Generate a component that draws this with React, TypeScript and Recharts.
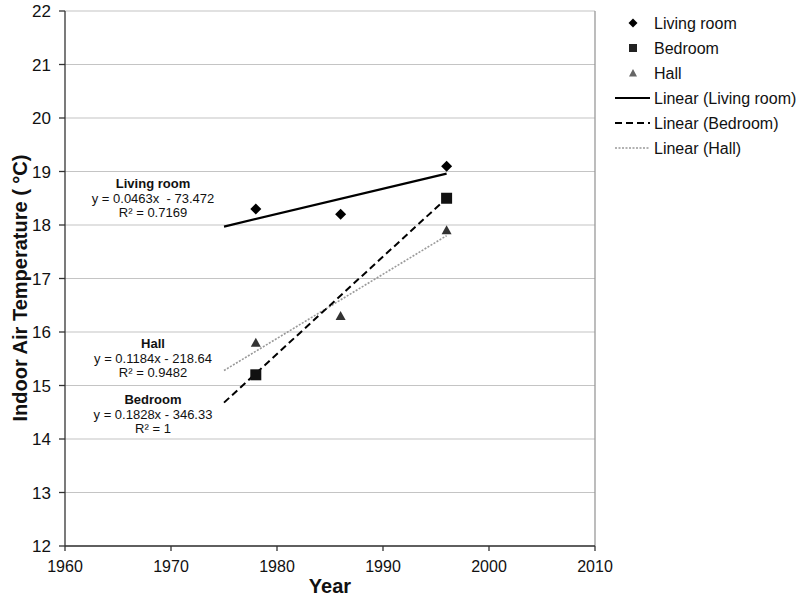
import React from "react";
import {
  CartesianGrid,
  ReferenceLine,
  Scatter,
  ScatterChart,
  XAxis,
  YAxis,
} from "recharts";

// measured years and temperatures (°C)
const years = [1978, 1986, 1996];
const livingRoom = [18.3, 18.2, 19.1];
const hall = [15.8, 16.3, 17.9];
const bedroomYears = [1978, 1996];
const bedroom = [15.2, 18.5];

// trendline endpoints
const trendYears = [1975, 1996];
const livingTrend = [17.97, 18.96];
const bedroomTrend = [14.68, 18.5];
const hallTrend = [15.28, 17.8];

const xTicks = [1960, 1970, 1980, 1990, 2000, 2010];
const yTicks = [12, 13, 14, 15, 16, 17, 18, 19, 20, 21, 22];

const toPoints = (xs: number[], ys: number[]) =>
  xs.map((x, i) => ({ x, y: ys[i] }));

const FONT = "'Liberation Sans', Arial, sans-serif";

const Diamond = ({ cx, cy }: any) => (
  <polygon
    points={`${cx},${cy - 5.5} ${cx + 5.5},${cy} ${cx},${cy + 5.5} ${cx - 5.5},${cy}`}
    fill="#000"
  />
);
const Square = ({ cx, cy }: any) => (
  <rect x={cx - 5.5} y={cy - 5.5} width={11} height={11} fill="#111" />
);
const Triangle = ({ cx, cy }: any) => (
  <polygon
    points={`${cx},${cy - 5} ${cx + 5},${cy + 4} ${cx - 5},${cy + 4}`}
    fill="#333"
  />
);
const NoMark = () => <g />;

const legendItems = [
  { label: "Living room", kind: "diamond" },
  { label: "Bedroom", kind: "square" },
  { label: "Hall", kind: "triangle" },
  { label: "Linear (Living room)", kind: "solid" },
  { label: "Linear (Bedroom)", kind: "dashed" },
  { label: "Linear (Hall)", kind: "dotted" },
];

const LegendBox = () => (
  <g>
    {legendItems.map((it, i) => {
      const y = 23 + i * 25;
      const mx = 633;
      let icon: React.ReactNode = null;
      if (it.kind === "diamond")
        icon = (
          <polygon
            points={`${mx},${y - 4.5} ${mx + 4.5},${y} ${mx},${y + 4.5} ${mx - 4.5},${y}`}
            fill="#000"
          />
        );
      if (it.kind === "square")
        icon = <rect x={mx - 4} y={y - 4} width={8} height={8} fill="#222" />;
      if (it.kind === "triangle")
        icon = (
          <polygon
            points={`${mx},${y - 4} ${mx + 4},${y + 3.5} ${mx - 4},${y + 3.5}`}
            fill="#666"
          />
        );
      if (it.kind === "solid")
        icon = <line x1={615} x2={650} y1={y} y2={y} stroke="#000" strokeWidth={2} />;
      if (it.kind === "dashed")
        icon = (
          <line
            x1={615}
            x2={650}
            y1={y}
            y2={y}
            stroke="#000"
            strokeWidth={2}
            strokeDasharray="7 4"
          />
        );
      if (it.kind === "dotted")
        icon = (
          <line
            x1={615}
            x2={650}
            y1={y}
            y2={y}
            stroke="#999"
            strokeWidth={1.5}
            strokeDasharray="2 1.5"
          />
        );
      return (
        <g key={it.label}>
          {icon}
          <text x={654} y={y + 5.5} fontSize={16} fontFamily={FONT} fill="#111">
            {it.label}
          </text>
        </g>
      );
    })}
  </g>
);

const YTitle = () => {
  const cx = 20;
  const cy = 288;
  return (
    <text
      x={cx}
      y={cy}
      transform={`rotate(-90 ${cx} ${cy})`}
      textAnchor="middle"
      dominantBaseline="central"
      fontSize={20}
      fontWeight="bold"
      fontFamily={FONT}
      fill="#111"
    >
      Indoor Air Temperature ( °C)
    </text>
  );
};

const annotations = [
  { title: "Living room", eq: "y = 0.0463x  - 73.472", r2: "R² = 0.7169", y: 183 },
  { title: "Hall", eq: "y = 0.1184x - 218.64", r2: "R² = 0.9482", y: 343 },
  { title: "Bedroom", eq: "y = 0.1828x - 346.33", r2: "R² = 1", y: 399 },
];

export default function App() {
  return (
    <div style={{ position: "absolute", left: 0, top: 0, width: 800, height: 605 }}>
      <ScatterChart
        width={800}
        height={605}
        margin={{ top: 11, right: 205, bottom: 4, left: 0 }}
      >
        <CartesianGrid vertical={false} stroke="#c4c4c4" strokeWidth={1.2} />
        <XAxis
          type="number"
          dataKey="x"
          domain={[1960, 2010]}
          ticks={xTicks}
          interval={0}
          height={55}
          stroke="#333"
          strokeWidth={1.3}
          tickSize={5}
          tickMargin={10}
          tick={{ fontSize: 16, fill: "#111", fontFamily: FONT }}
          label={{
            value: "Year",
            position: "insideBottom",
            offset: 8,
            fontSize: 20,
            fontWeight: "bold",
            fill: "#111",
            fontFamily: FONT,
          }}
        />
        <YAxis
          type="number"
          dataKey="y"
          domain={[12, 22]}
          ticks={yTicks}
          interval={0}
          width={65}
          stroke="#333"
          strokeWidth={1.3}
          tickSize={6}
          tickMargin={8}
          tick={{ fontSize: 17, fill: "#111", fontFamily: FONT }}
          label={{ content: YTitle }}
        />
        <ReferenceLine x={2010} stroke="#999" strokeWidth={1.3} />
        <Scatter
          name="Linear (Hall)"
          data={toPoints(trendYears, hallTrend)}
          line={{ stroke: "#999", strokeWidth: 1.6, strokeDasharray: "2 1.5" }}
          shape={NoMark}
          isAnimationActive={false}
        />
        <Scatter
          name="Linear (Bedroom)"
          data={toPoints(trendYears, bedroomTrend)}
          line={{ stroke: "#000", strokeWidth: 2, strokeDasharray: "7 4" }}
          shape={NoMark}
          isAnimationActive={false}
        />
        <Scatter
          name="Linear (Living room)"
          data={toPoints(trendYears, livingTrend)}
          line={{ stroke: "#000", strokeWidth: 2.2 }}
          shape={NoMark}
          isAnimationActive={false}
        />
        <Scatter
          name="Living room"
          data={toPoints(years, livingRoom)}
          shape={Diamond}
          isAnimationActive={false}
        />
        <Scatter
          name="Bedroom"
          data={toPoints(bedroomYears, bedroom)}
          shape={Square}
          isAnimationActive={false}
        />
        <Scatter
          name="Hall"
          data={toPoints(years, hall)}
          shape={Triangle}
          isAnimationActive={false}
        />
      </ScatterChart>
      <svg
        width={800}
        height={605}
        style={{ position: "absolute", left: 0, top: 0, pointerEvents: "none" }}
      >
        <LegendBox />
        {annotations.map((a) => (
          <g key={a.title} fontFamily={FONT} fontSize={13} fill="#111" textAnchor="middle">
            <text x={153} y={a.y + 4.5} fontWeight="bold">
              {a.title}
            </text>
            <text x={153} y={a.y + 19.5} xmlSpace="preserve">
              {a.eq}
            </text>
            <text x={153} y={a.y + 33.5}>
              {a.r2}
            </text>
          </g>
        ))}
      </svg>
    </div>
  );
}
